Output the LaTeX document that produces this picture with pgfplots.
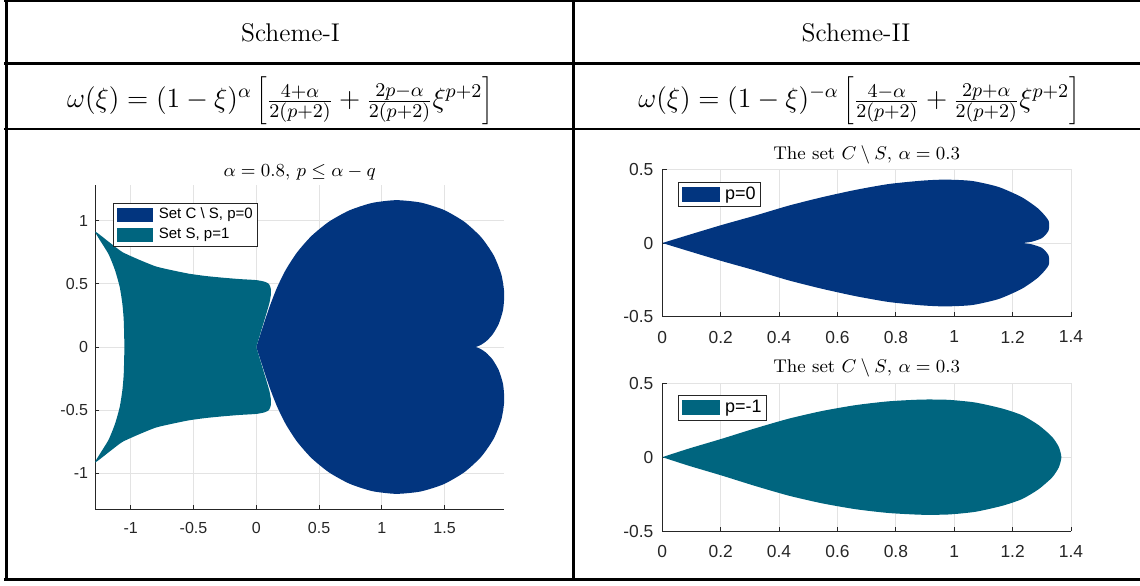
\RequirePackage{fix-cm}
\documentclass[border=0pt]{standalone}
\usepackage{fontspec}
\usepackage{pgfplots}
\pgfplotsset{compat=1.18}
\newfontfamily\msans{Liberation Sans}
\definecolor{cblue}{HTML}{02357F}
\definecolor{cteal}{HTML}{00657F}
\definecolor{axgray}{HTML}{262626}
\definecolor{gridgray}{HTML}{E3E3E3}

\pgfplotsset{
  mat/.style={
    scale only axis,
    axis x line*=bottom, axis y line*=left,
    axis line style={axgray, line width=0.5pt},
    tick align=inside, major tick length=2.2pt,
    tick style={axgray, line width=0.5pt},
    grid=major, grid style={gridgray, line width=0.5pt},
    ticklabel style={text=axgray},
    every axis title/.style={at={(0.5,1)}, anchor=center, font=\fontsize{9.2}{11}\selectfont},
    legend style={anchor=north west, draw=axgray, line width=0.5pt, fill=white,
                  inner xsep=1.8pt, inner ysep=1.5pt, row sep=1.5pt,
                  cells={anchor=west}, nodes={inner sep=0.8pt}},
  },
}

\begin{document}
\begin{tikzpicture}
\useasboundingbox (0,0) rectangle (570pt,-292.5pt);

% ---------- Scheme-I ----------
\begin{axis}[mat,
  width=204.65pt, height=162pt,
  at={(47.5pt,-254.5pt)}, anchor=south west,
  xmin=-1.285, xmax=1.976, ymin=-1.283, ymax=1.283,
  xtick={-1,-0.5,0,0.5,1,1.5}, xticklabels={-1,-0.5,0,0.5,1,1.5},
  ytick={-1,-0.5,0,0.5,1}, yticklabels={-1,-0.5,0,0.5,1},
  xticklabel style={font=\msans\fontsize{8}{9}\selectfont, anchor=north, inner sep=0pt, yshift=-6.4pt},
  yticklabel style={font=\msans\fontsize{8}{9}\selectfont, anchor=east, inner sep=0pt, xshift=-3.3pt},
  title={$\alpha=0.8$, $p\leq\alpha-q$}, title style={yshift=6.15pt},
  legend style={at={(0.043,0.945)}, font=\msans\fontsize{7.5}{9}\selectfont},
  legend image code/.code={\fill[#1] (0pt,-3.5pt) rectangle (18.3pt,3.5pt); \path (20.3pt,0pt);},
]
\addplot[fill=cblue, draw=none, smooth, tension=0.4] coordinates {
  (0,0) (0.0614,-0.1882) (0.1114,-0.3342) (0.167,-0.4745) (0.2363,-0.6137)
  (0.3254,-0.7501) (0.439,-0.8788) (0.5783,-0.9921) (0.7413,-1.0819)
  (0.9227,-1.1411) (1.116,-1.163) (1.31,-1.144) (1.494,-1.086)
  (1.6584,-0.9911) (1.793,-0.868) (1.8918,-0.7254) (1.9523,-0.575)
  (1.9754,-0.4282) (1.9662,-0.2953) (1.9319,-0.1843) (1.8833,-0.1003)
  (1.8305,-0.0444) (1.7838,-0.0137) (1.7523,-0.0018) (1.7411,0)
  (1.7523,0.0018) (1.7838,0.0137) (1.8305,0.0444) (1.8833,0.1003)
  (1.9319,0.1843) (1.9662,0.2953) (1.9754,0.4282) (1.9523,0.575)
  (1.8918,0.7254) (1.793,0.868) (1.6584,0.9911) (1.494,1.086)
  (1.31,1.144) (1.116,1.163) (0.9227,1.1411) (0.7413,1.0819)
  (0.5783,0.9921) (0.439,0.8788) (0.3254,0.7501) (0.2363,0.6137)
  (0.167,0.4745) (0.1114,0.3342) (0.0614,0.1882) (0,0)
};
\addlegendentry{Set C \textbackslash{} S, p=0}
\addplot[fill=cteal, draw=none, smooth, tension=0.35] coordinates {
  (0,0) (0.04,0.132) (0.08,0.264) (0.105,0.35) (0.117,0.42) (0.115,0.465)
  (0.1,0.5) (0.067,0.517) (0,0.53) (-0.133,0.538) (-0.267,0.549)
  (-0.4,0.562) (-0.533,0.58) (-0.667,0.607) (-0.8,0.638) (-0.933,0.691)
  (-1.067,0.752) (-1.173,0.831) (-1.285,0.913) (-1.179,0.739)
  (-1.125,0.607) (-1.088,0.475) (-1.067,0.343) (-1.056,0.211) (-1.051,0)
  (-1.056,-0.211) (-1.067,-0.343) (-1.088,-0.475) (-1.125,-0.607)
  (-1.179,-0.739) (-1.285,-0.913) (-1.173,-0.831) (-1.067,-0.752)
  (-0.933,-0.691) (-0.8,-0.638) (-0.667,-0.607) (-0.533,-0.58)
  (-0.4,-0.562) (-0.267,-0.549) (-0.133,-0.538) (0,-0.53) (0.067,-0.517)
  (0.1,-0.5) (0.115,-0.465) (0.117,-0.42) (0.105,-0.35) (0.08,-0.264)
  (0.04,-0.132) (0,0)
};
\addlegendentry{Set S, p=1}
\end{axis}

% ---------- Scheme-II, p=0 ----------
\begin{axis}[mat,
  width=204.35pt, height=73.7pt,
  at={(331.15pt,-158.35pt)}, anchor=south west,
  xmin=0, xmax=1.4, ymin=-0.5, ymax=0.5,
  xtick={0,0.2,0.4,0.6,0.8,1,1.2,1.4}, xticklabels={0,0.2,0.4,0.6,0.8,1,1.2,1.4},
  ytick={-0.5,0,0.5}, yticklabels={-0.5,0,0.5},
  xticklabel style={font=\msans\fontsize{8.7}{10}\selectfont, anchor=north, inner sep=0pt, yshift=-6.9pt},
  yticklabel style={font=\msans\fontsize{8.7}{10}\selectfont, anchor=east, inner sep=0pt, xshift=-4.3pt},
  title={The set $C\setminus S$, $\alpha=0.3$}, title style={yshift=7.15pt},
  legend style={at={(0.039,0.916)}, font=\msans\fontsize{9}{10}\selectfont},
  legend image code/.code={\fill[#1] (0pt,-3.7pt) rectangle (19pt,3.7pt); \path (20.6pt,0pt);},
]
\addplot[fill=cblue, draw=none, smooth, tension=0.4] coordinates {
  (0,0) (0.089,0.054) (0.203,0.122) (0.318,0.186) (0.432,0.253) (0.546,0.31)
  (0.661,0.36) (0.775,0.4) (0.889,0.423) (0.969,0.43) (1.061,0.421)
  (1.152,0.38) (1.232,0.31) (1.289,0.231) (1.323,0.152) (1.323,0.084)
  (1.301,0.034) (1.266,0.009) (1.238,0)
  (1.266,-0.009) (1.301,-0.034) (1.323,-0.084) (1.323,-0.152) (1.289,-0.231)
  (1.232,-0.31) (1.152,-0.38) (1.061,-0.421) (0.969,-0.43) (0.889,-0.423)
  (0.775,-0.4) (0.661,-0.36) (0.546,-0.31) (0.432,-0.253) (0.318,-0.186)
  (0.203,-0.122) (0.089,-0.054) (0,0)
};
\addlegendentry{p=0}
\end{axis}

% ---------- Scheme-II, p=-1 ----------
\begin{axis}[mat,
  width=204.35pt, height=73.85pt,
  at={(331.15pt,-265.5pt)}, anchor=south west,
  xmin=0, xmax=1.4, ymin=-0.5, ymax=0.5,
  xtick={0,0.2,0.4,0.6,0.8,1,1.2,1.4}, xticklabels={0,0.2,0.4,0.6,0.8,1,1.2,1.4},
  ytick={-0.5,0,0.5}, yticklabels={-0.5,0,0.5},
  xticklabel style={font=\msans\fontsize{8.7}{10}\selectfont, anchor=north, inner sep=0pt, yshift=-6.9pt},
  yticklabel style={font=\msans\fontsize{8.7}{10}\selectfont, anchor=east, inner sep=0pt, xshift=-4.3pt},
  title={The set $C\setminus S$, $\alpha=0.3$}, title style={yshift=7.5pt},
  legend style={at={(0.039,0.921)}, font=\msans\fontsize{9}{10}\selectfont},
  legend image code/.code={\fill[#1] (0pt,-3.7pt) rectangle (19pt,3.7pt); \path (20.6pt,0pt);},
]
\addplot[fill=cteal, draw=none, smooth, tension=0.4] coordinates {
  (0,0) (0.089,0.057) (0.203,0.124) (0.318,0.195) (0.432,0.26) (0.546,0.312)
  (0.661,0.352) (0.775,0.378) (0.889,0.39) (0.981,0.388) (1.072,0.37)
  (1.163,0.33) (1.232,0.284) (1.289,0.217) (1.335,0.138) (1.358,0.07)
  (1.367,0)
  (1.358,-0.07) (1.335,-0.138) (1.289,-0.217) (1.232,-0.284) (1.163,-0.33)
  (1.072,-0.37) (0.981,-0.388) (0.889,-0.39) (0.775,-0.378) (0.661,-0.352)
  (0.546,-0.312) (0.432,-0.26) (0.318,-0.195) (0.203,-0.124) (0.089,-0.057)
  (0,0)
};
\addlegendentry{p=-1}
\end{axis}

% ---------- table rules ----------
\draw[line width=1.5pt] (2pt,0pt) -- (572pt,0pt);
\draw[line width=1.5pt] (2pt,-31.9pt) -- (572pt,-31.9pt);
\draw[line width=1.2pt] (2pt,-64.4pt) -- (572pt,-64.4pt);
\draw[line width=1.5pt] (2pt,-289.7pt) -- (572pt,-289.7pt);
\draw[line width=1.35pt] (3.3pt,0pt) -- (3.3pt,-290.4pt);
\draw[line width=1.3pt] (286.85pt,0pt) -- (286.85pt,-290.4pt);

% ---------- table text ----------
\node[font=\fontsize{12.8}{15}\selectfont] at (145.25pt,-16.5pt) {Scheme-I};
\node[font=\fontsize{12.8}{15}\selectfont] at (428pt,-16.5pt) {Scheme-II};
\node[font=\fontsize{13.9}{16}\selectfont] at (140pt,-50.5pt)
  {$\omega(\xi)=(1-\xi)^{\alpha}\left[\frac{4+\alpha}{2(p+2)}+\frac{2p-\alpha}{2(p+2)}\xi^{p+2}\right]$};
\node[font=\fontsize{13.9}{16}\selectfont] at (429.5pt,-50.5pt)
  {$\omega(\xi)=(1-\xi)^{-\alpha}\left[\frac{4-\alpha}{2(p+2)}+\frac{2p+\alpha}{2(p+2)}\xi^{p+2}\right]$};
\end{tikzpicture}
\end{document}
